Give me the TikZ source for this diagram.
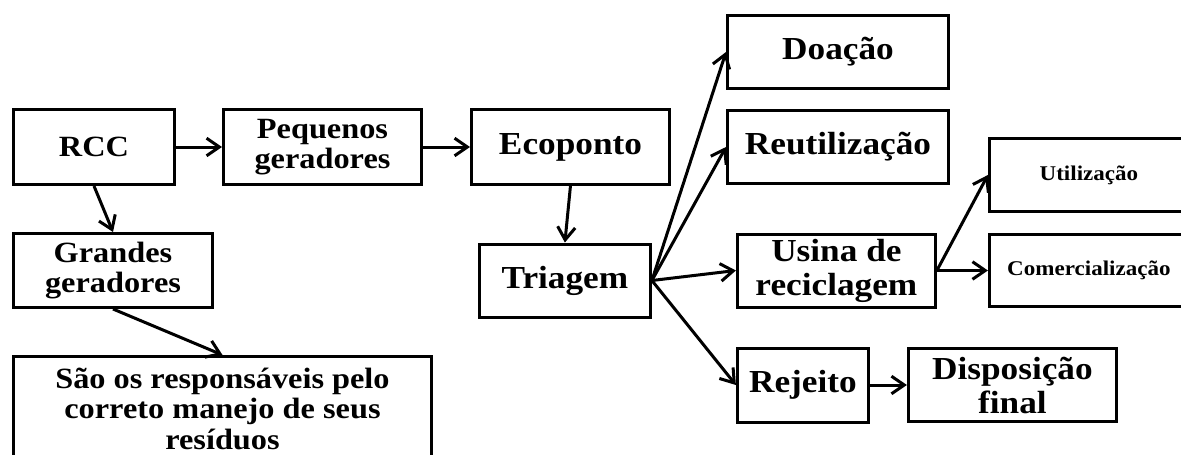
\documentclass[tikz,border=0pt]{standalone}
\usepackage{fontspec}
\setmainfont{Liberation Serif}[FakeStretch=1.1]
\usetikzlibrary{arrows.meta,positioning}

\begin{document}
\begin{tikzpicture}[
      box/.style={draw,line width=0.075cm,align=center,inner sep=0pt,
        font=\bfseries\fontsize{22.8}{24.2}\selectfont},
      leftbox/.style={box,font=\bfseries\fontsize{20.9}{21.7}\selectfont},
      smallbox/.style={box,font=\bfseries\fontsize{14.9}{17}\selectfont},
      arrow/.style={-{Straight Barb[length=3.2mm,width=4.4mm]},line width=0.075cm}
    ]
      \useasboundingbox (0,0) rectangle (29.525,-11.375);
      % left branch
      \node[leftbox,minimum width=4.025cm,minimum height=1.875cm] (rcc) at (2.35,-3.675) {RCC};
      \node[leftbox,minimum width=4.95cm,minimum height=1.875cm,right=1.15cm of rcc] (peq)
        {Pequenos\\geradores};
      \node[leftbox,minimum width=4.975cm,minimum height=1.85cm,
        below right=1.15cm and 0cm of rcc.south west] (gra) {Grandes\\geradores};
      \node[leftbox,minimum width=10.45cm,inner ysep=0.28cm,
        below right=1.15cm and 0cm of gra.south west] (sao)
        {S\~ao os respons\'aveis pelo\\correto manejo de seus\\res\'iduos};
      % ecoponto and sorting
      \node[box,minimum width=4.95cm,minimum height=1.85cm,right=1.175cm of peq] (eco) {Ecoponto};
      \node[box,minimum width=4.275cm,minimum height=1.825cm,below=1.425cm of eco,xshift=-0.14cm] (tri)
        {Triagem};
      \node[box,minimum width=5.525cm,minimum height=1.825cm,right=1.375cm of eco] (reu)
        {Reutiliza\c{c}\~ao};
      \node[box,minimum width=5.525cm,minimum height=1.825cm,above=0.475cm of reu] (doa) {Doa\c{c}\~ao};
      \node[box,minimum width=4.95cm,minimum height=1.825cm,right=2.1cm of tri,yshift=0.25cm] (usi)
        {Usina de\\reciclagem};
      \node[box,minimum width=3.275cm,minimum height=1.85cm,
        below right=0.95cm and 0cm of usi.south west] (rej) {Rejeito};
      \node[box,minimum width=5.2cm,minimum height=1.825cm,right=0.925cm of rej] (dis)
        {Disposi\c{c}\~ao\\final};
      \node[smallbox,minimum width=4.975cm,minimum height=1.8cm,right=1.275cm of usi] (com)
        {Comercializa\c{c}\~ao};
      \node[smallbox,minimum width=4.975cm,minimum height=1.825cm,above=0.5cm of com] (uti)
        {Utiliza\c{c}\~ao};
      % connectors
      \draw[arrow] (rcc) -- (peq);
      \draw[arrow] (peq) -- (eco);
      \draw[arrow] (rcc.south) -- (gra.north);
      \draw[arrow] (gra.south) -- (sao.north);
      \draw[arrow] (eco.south) -- (tri.north);
      \draw[arrow] (tri.east) -- (doa.west);
      \draw[arrow] (tri.east) -- (reu.west);
      \draw[arrow] (tri.east) -- (usi.west);
      \draw[arrow] (tri.east) -- (rej.west);
      \draw[arrow] (rej) -- (dis);
      \draw[arrow] (usi.east) -- (uti.west);
      \draw[arrow] (usi.east) -- (com.west);
    \end{tikzpicture}
\end{document}
